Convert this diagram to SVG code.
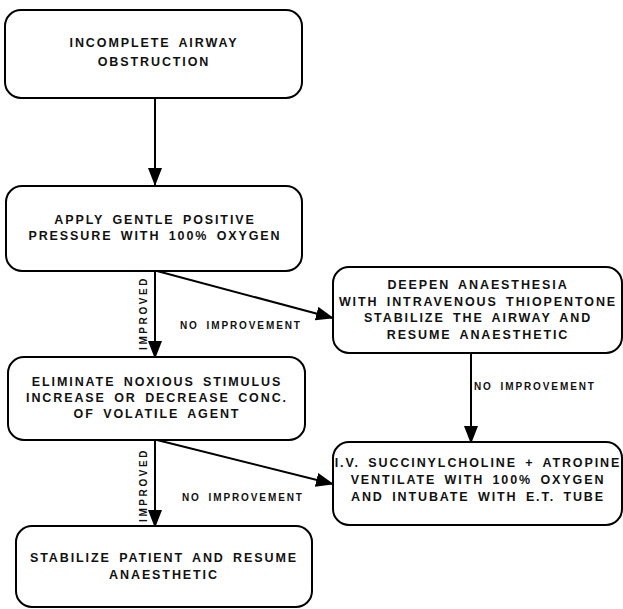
<svg xmlns="http://www.w3.org/2000/svg" width="623" height="609" viewBox="0 0 623 609">
<defs>
<marker id="ah" markerWidth="18" markerHeight="14" refX="17" refY="7" orient="auto" markerUnits="userSpaceOnUse">
<path d="M0,0 L18,7 L0,14 Z" fill="#000"/>
</marker>
<style>
.box{fill:#fff;stroke:#000;stroke-width:2}
.t{font-family:"Liberation Sans",Arial,sans-serif;font-size:12.5px;font-weight:bold;letter-spacing:1.9px;word-spacing:3px;fill:#111;text-anchor:middle}
.l{font-family:"Liberation Sans",Arial,sans-serif;font-size:10px;font-weight:bold;letter-spacing:1.9px;word-spacing:3px;fill:#111}
.v{font-family:"Liberation Sans",Arial,sans-serif;font-size:10px;font-weight:bold;letter-spacing:2.6px;fill:#111}
.c{stroke:#000;stroke-width:2;fill:none}
</style>
</defs>
<rect width="623" height="609" fill="#fff"/>
<g id="connectors">
<line class="c" x1="155" y1="98" x2="155" y2="185" marker-end="url(#ah)"/>
<line class="c" x1="155" y1="271" x2="155" y2="358" marker-end="url(#ah)"/>
<line class="c" x1="157" y1="271" x2="333" y2="318" marker-end="url(#ah)"/>
<line class="c" x1="471" y1="353" x2="471" y2="443" marker-end="url(#ah)"/>
<line class="c" x1="155" y1="440" x2="155" y2="527" marker-end="url(#ah)"/>
<line class="c" x1="157" y1="440" x2="333" y2="484" marker-end="url(#ah)"/>
<text class="l" x="180" y="329">NO IMPROVEMENT</text>
<text class="l" x="474" y="390">NO IMPROVEMENT</text>
<text class="l" x="182" y="501">NO IMPROVEMENT</text>
<text class="v" transform="translate(147,350) rotate(-90)">IMPROVED</text>
<text class="v" transform="translate(147,522) rotate(-90)">IMPROVED</text>
</g>
<g id="n1">
<rect class="box" x="5" y="10" width="297" height="88" rx="16"/>
<text class="t" x="154" y="47">INCOMPLETE AIRWAY</text>
<text class="t" x="154" y="66">OBSTRUCTION</text>
</g>
<g id="n2">
<rect class="box" x="6" y="186" width="296" height="85" rx="16"/>
<text class="t" x="155" y="224">APPLY GENTLE POSITIVE</text>
<text class="t" x="155" y="240">PRESSURE WITH 100% OXYGEN</text>
</g>
<g id="n3">
<rect class="box" x="8" y="357" width="297" height="83" rx="16"/>
<text class="t" x="157" y="386">ELIMINATE NOXIOUS STIMULUS</text>
<text class="t" x="157" y="402">INCREASE OR DECREASE  CONC.</text>
<text class="t" x="157" y="418">OF VOLATILE AGENT</text>
</g>
<g id="n4">
<rect class="box" x="333" y="267" width="289" height="86" rx="16"/>
<text class="t" x="478" y="289">DEEPEN ANAESTHESIA</text>
<text class="t" x="478" y="306">WITH INTRAVENOUS THIOPENTONE</text>
<text class="t" x="478" y="322">STABILIZE THE AIRWAY AND</text>
<text class="t" x="478" y="339">RESUME ANAESTHETIC</text>
</g>
<g id="n5">
<rect class="box" x="333" y="442" width="289" height="83" rx="16"/>
<text class="t" x="478" y="467">I.V. SUCCINYLCHOLINE + ATROPINE</text>
<text class="t" x="478" y="484">VENTILATE WITH 100% OXYGEN</text>
<text class="t" x="478" y="501">AND INTUBATE WITH E.T. TUBE</text>
</g>
<g id="n6">
<rect class="box" x="16" y="526" width="296" height="81" rx="16"/>
<text class="t" x="164" y="562">STABILIZE PATIENT AND RESUME</text>
<text class="t" x="164" y="579">ANAESTHETIC</text>
</g>
</svg>
